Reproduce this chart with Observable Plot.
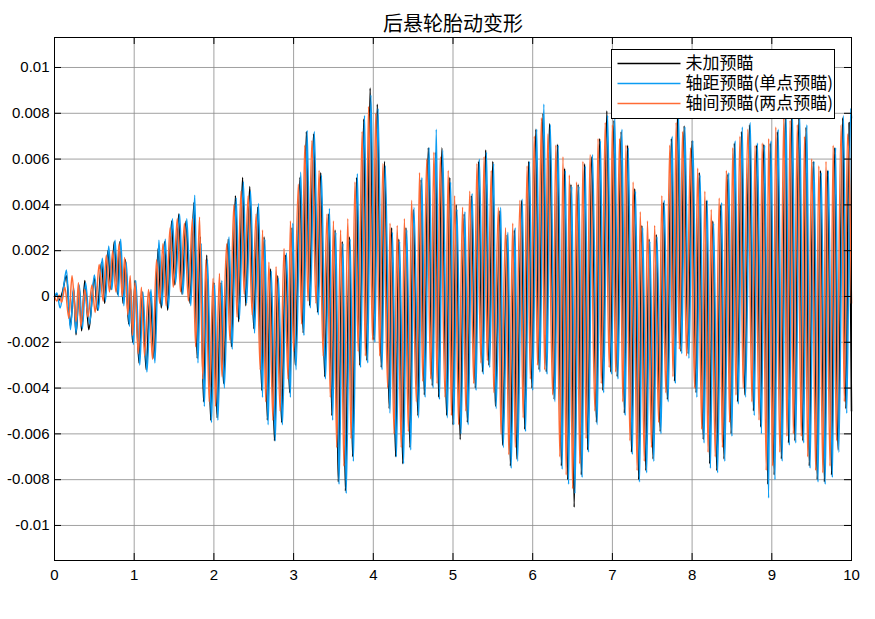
<!DOCTYPE html>
<html>
<head>
<meta charset="utf-8">
<script src="https://cdn.jsdelivr.net/npm/d3@7"></script>
<script src="https://cdn.jsdelivr.net/npm/@observablehq/plot@0.6"></script>
<style>
  html, body { margin: 0; padding: 0; background: #fff; }
  #chart { width: 875px; height: 619px; }
</style>
</head>
<body>
<div id="chart"></div>
<script>
// Values: [time (s), deformation (×1e-3 m)] at the wave extrema.
const blackPts = [[0,0],[0.03,0.1],[0.06,-0.15],[0.10,0.2],[0.15,0.9],[0.20,-1.3],[0.24,0.3],[0.27,-1.67],[0.31,0.4],[0.34,-1.5],[0.38,0.7],[0.43,-1.45],[0.50,0.8],[0.54,-0.6],[0.59,1.5],[0.63,-0.3],[0.67,2.0],[0.71,0.3],[0.75,2.4],[0.79,0.1],[0.82,2.4],[0.86,-0.3],[0.89,1.6],[0.93,-1.2],[0.95,0.4],[0.98,-2.0],[1.01,0.7],[1.06,-2.9],[1.10,0.2],[1.15,-3.2],[1.20,0.2],[1.25,-2.7],[1.30,2.1],[1.34,-0.5],[1.38,2.4],[1.42,-0.6],[1.47,3.3],[1.51,0.5],[1.56,3.6],[1.60,0.1],[1.65,3.3],[1.70,-0.3],[1.75,4.1],[1.79,-2.7],[1.83,2.6],[1.87,-4.6],[1.91,1.8],[1.96,-5.4],[2.00,0.6],[2.04,-5.3],[2.09,0.6],[2.12,-3.8],[2.18,2.5],[2.22,-2.2],[2.27,4.4],[2.31,-1.1],[2.36,5.2],[2.40,-0.4],[2.45,4.8],[2.50,-1.4],[2.55,3.9],[2.60,-4.1],[2.63,2.6],[2.67,-5.4],[2.71,1.2],[2.76,-6.3],[2.80,0.9],[2.85,-5.5],[2.90,1.8],[2.95,-4.2],[2.98,3.0],[3.02,-3.0],[3.08,5.2],[3.12,-1.6],[3.16,7.2],[3.20,-0.4],[3.25,7.1],[3.30,-0.7],[3.34,5.4],[3.39,-3.5],[3.44,3.6],[3.48,-5.2],[3.52,2.9],[3.56,-8.1],[3.61,2.4],[3.65,-8.5],[3.70,2.6],[3.74,-7.0],[3.79,5.2],[3.83,-3.0],[3.88,7.75],[3.92,-2.8],[3.96,9.1],[4.01,-1.9],[4.05,8.4],[4.10,-3.1],[4.14,5.9],[4.20,-4.9],[4.23,3.0],[4.28,-7.0],[4.32,2.5],[4.37,-7.3],[4.41,3.0],[4.46,-6.6],[4.50,3.8],[4.56,-5.2],[4.60,5.1],[4.64,-4.3],[4.69,6.5],[4.74,-3.9],[4.78,6.3],[4.82,-4.4],[4.86,6.5],[4.92,-5.2],[4.96,5.2],[5.00,-5.6],[5.04,4.0],[5.09,-6.25],[5.14,3.6],[5.18,-5.5],[5.23,4.4],[5.28,-4.0],[5.32,5.9],[5.37,-3.3],[5.41,6.4],[5.45,-3.0],[5.50,5.9],[5.53,-4.8],[5.59,3.75],[5.62,-6.5],[5.68,2.7],[5.72,-7.4],[5.77,2.9],[5.80,-7.1],[5.86,4.2],[5.90,-5.8],[5.95,5.9],[5.99,-4.0],[6.04,7.3],[6.08,-3.2],[6.13,8.0],[6.17,-3.3],[6.21,7.55],[6.27,-4.5],[6.31,6.65],[6.36,-7.4],[6.40,5.6],[6.44,-8.0],[6.48,4.9],[6.52,-9.2],[6.57,4.9],[6.61,-7.8],[6.65,5.8],[6.69,-6.7],[6.74,6.1],[6.80,-5.5],[6.84,6.9],[6.88,-4.1],[6.93,8.1],[6.98,-3.3],[7.02,7.7],[7.06,-3.5],[7.11,7.2],[7.15,-5.1],[7.19,6.6],[7.24,-6.8],[7.28,4.7],[7.33,-8.0],[7.37,3.1],[7.42,-7.6],[7.46,2.5],[7.51,-7.1],[7.55,2.7],[7.60,-5.9],[7.64,4.1],[7.69,-4.5],[7.74,6.9],[7.78,-3.7],[7.82,8.4],[7.86,-2.4],[7.90,7.45],[7.95,-2.5],[8.00,6.8],[8.05,-4.2],[8.09,5.4],[8.14,-6.25],[8.18,4.2],[8.22,-7.3],[8.26,3.3],[8.31,-7.6],[8.36,4.0],[8.40,-7.1],[8.45,5.35],[8.49,-6.0],[8.53,6.7],[8.57,-4.6],[8.62,7.2],[8.66,-4.3],[8.72,7.5],[8.77,-5.0],[8.81,6.6],[8.86,-5.7],[8.90,6.65],[8.95,-8.2],[8.98,6.7],[9.03,-7.8],[9.07,7.2],[9.12,-7.1],[9.17,7.9],[9.21,-6.4],[9.25,7.9],[9.29,-6.3],[9.34,7.8],[9.39,-6.3],[9.43,7.4],[9.47,-7.4],[9.52,5.9],[9.57,-8.0],[9.61,5.5],[9.66,-8.1],[9.70,5.5],[9.75,-7.8],[9.79,6.5],[9.83,-6.7],[9.89,7.8],[9.93,-4.9],[9.97,7.6],[10.0,-5.0]];

const bluePts = [[0,0],[0.03,0.15],[0.07,-0.5],[0.11,0.3],[0.15,1.16],[0.20,-1.45],[0.24,0.4],[0.27,-1.6],[0.31,0.5],[0.35,-1.4],[0.39,0.6],[0.44,-1.2],[0.50,0.94],[0.55,-0.6],[0.60,1.67],[0.64,-0.2],[0.68,2.2],[0.72,0.3],[0.76,2.46],[0.80,0.0],[0.83,2.5],[0.87,-0.4],[0.90,1.5],[0.94,-1.3],[0.96,0.3],[0.99,-2.1],[1.02,0.7],[1.07,-3.0],[1.11,0.2],[1.16,-3.3],[1.21,0.3],[1.26,-2.9],[1.31,2.46],[1.35,-0.4],[1.39,2.5],[1.43,-0.5],[1.48,3.4],[1.52,0.6],[1.57,3.6],[1.61,0.1],[1.66,3.4],[1.71,-0.4],[1.76,4.42],[1.80,-2.9],[1.84,2.3],[1.88,-4.8],[1.92,1.6],[1.97,-5.5],[2.01,0.5],[2.05,-5.4],[2.10,0.7],[2.13,-4.0],[2.19,2.6],[2.23,-2.3],[2.28,4.3],[2.32,-1.0],[2.37,5.0],[2.41,-0.3],[2.46,4.6],[2.51,-1.6],[2.56,4.06],[2.61,-4.4],[2.64,2.5],[2.68,-5.6],[2.72,1.1],[2.77,-6.3],[2.81,0.8],[2.86,-5.6],[2.91,1.9],[2.96,-4.4],[2.99,3.2],[3.03,-3.2],[3.09,5.43],[3.13,-1.7],[3.17,7.25],[3.21,-0.5],[3.26,7.2],[3.31,-0.8],[3.35,5.3],[3.40,-3.6],[3.45,3.84],[3.49,-5.4],[3.53,2.8],[3.57,-8.2],[3.62,2.3],[3.66,-8.6],[3.71,2.5],[3.75,-7.2],[3.80,5.36],[3.84,-3.1],[3.89,7.9],[3.93,-2.9],[3.97,8.8],[4.02,-2.0],[4.06,8.2],[4.11,-3.2],[4.15,5.7],[4.21,-5.1],[4.24,2.8],[4.29,-7.0],[4.33,2.4],[4.38,-7.3],[4.42,2.9],[4.47,-6.7],[4.51,3.9],[4.57,-5.3],[4.61,5.2],[4.65,-4.4],[4.70,6.5],[4.75,-4.0],[4.79,7.3],[4.83,-4.5],[4.87,6.4],[4.93,-5.3],[4.97,5.0],[5.01,-5.6],[5.05,3.8],[5.10,-6.0],[5.15,3.7],[5.19,-5.6],[5.24,4.5],[5.29,-4.1],[5.33,6.0],[5.38,-3.4],[5.42,6.3],[5.46,-3.1],[5.51,5.8],[5.54,-4.9],[5.60,3.9],[5.63,-6.6],[5.69,2.8],[5.73,-7.5],[5.78,3.0],[5.81,-7.2],[5.87,4.26],[5.91,-5.9],[5.96,5.9],[6.00,-4.1],[6.05,7.3],[6.09,-3.3],[6.14,8.4],[6.18,-3.4],[6.22,7.5],[6.28,-4.6],[6.32,6.6],[6.37,-7.55],[6.41,5.5],[6.45,-8.2],[6.49,4.8],[6.53,-8.6],[6.58,4.8],[6.62,-7.9],[6.66,5.7],[6.70,-6.8],[6.75,6.2],[6.81,-5.6],[6.85,6.8],[6.89,-4.2],[6.94,7.9],[6.99,-3.4],[7.03,7.9],[7.07,-3.6],[7.12,7.3],[7.16,-5.2],[7.20,6.5],[7.25,-6.9],[7.29,4.6],[7.34,-8.1],[7.38,3.0],[7.43,-7.7],[7.47,2.4],[7.52,-7.2],[7.56,2.6],[7.61,-6.0],[7.65,4.2],[7.70,-4.6],[7.75,7.0],[7.79,-3.8],[7.83,8.0],[7.87,-2.5],[7.91,7.4],[7.96,-2.7],[8.01,6.8],[8.06,-4.4],[8.10,5.3],[8.15,-6.4],[8.19,4.2],[8.23,-7.5],[8.27,3.2],[8.32,-7.7],[8.37,4.1],[8.41,-7.2],[8.46,5.4],[8.50,-6.1],[8.54,6.8],[8.58,-4.7],[8.63,7.4],[8.67,-4.4],[8.73,7.6],[8.78,-5.2],[8.82,6.7],[8.87,-6.0],[8.91,6.6],[8.96,-8.8],[8.99,6.8],[9.04,-8.0],[9.08,7.3],[9.13,-7.2],[9.18,8.0],[9.22,-6.5],[9.26,8.0],[9.30,-6.4],[9.35,7.9],[9.40,-6.4],[9.44,7.5],[9.48,-7.5],[9.53,5.9],[9.58,-8.1],[9.62,5.4],[9.67,-8.2],[9.71,5.5],[9.76,-7.9],[9.80,6.5],[9.84,-6.8],[9.90,7.9],[9.94,-5.1],[9.99,8.2],[10.0,7.8]];

const orangePts = [[0,0],[0.03,-0.2],[0.06,0.05],[0.09,-0.25],[0.13,0.4],[0.18,-0.95],[0.22,0.9],[0.27,-1.1],[0.30,0.6],[0.33,-1.3],[0.38,0.3],[0.42,-0.9],[0.47,0.5],[0.51,-0.7],[0.56,1.4],[0.61,-0.2],[0.65,1.8],[0.69,0.2],[0.73,2.0],[0.77,0.2],[0.81,2.3],[0.85,0.0],[0.88,1.7],[0.92,-0.8],[0.95,0.9],[0.98,-1.7],[1.01,0.6],[1.05,-2.5],[1.09,0.4],[1.13,-2.6],[1.18,0.3],[1.23,-2.75],[1.28,1.6],[1.32,-0.3],[1.36,2.3],[1.40,-0.4],[1.45,3.0],[1.49,0.4],[1.54,3.4],[1.58,0.2],[1.63,3.2],[1.68,-0.2],[1.73,3.4],[1.77,-2.2],[1.82,3.46],[1.86,-3.6],[1.90,1.6],[1.94,-4.6],[1.99,0.8],[2.02,-4.8],[2.07,1.0],[2.10,-3.5],[2.16,2.3],[2.20,-1.9],[2.25,4.0],[2.29,-0.9],[2.34,4.6],[2.38,0.1],[2.43,4.4],[2.48,-0.8],[2.53,3.6],[2.58,-3.2],[2.61,2.9],[2.65,-4.6],[2.69,1.5],[2.74,-5.4],[2.78,1.3],[2.83,-5.0],[2.88,2.1],[2.93,-3.6],[2.96,3.3],[3.00,-2.4],[3.06,4.9],[3.10,-1.2],[3.14,6.6],[3.18,-0.2],[3.23,6.8],[3.28,-0.3],[3.32,5.5],[3.37,-2.6],[3.42,3.6],[3.46,-4.4],[3.50,3.3],[3.54,-6.6],[3.59,2.9],[3.63,-7.4],[3.68,3.4],[3.72,-6.2],[3.77,5.0],[3.81,-2.4],[3.86,7.2],[3.90,-2.6],[3.94,8.3],[3.99,-1.9],[4.03,8.0],[4.08,-2.6],[4.12,5.8],[4.18,-4.0],[4.21,3.2],[4.26,-6.0],[4.30,3.1],[4.35,-6.6],[4.39,3.4],[4.44,-5.9],[4.48,4.2],[4.54,-4.6],[4.58,5.4],[4.62,-3.7],[4.67,6.0],[4.72,-3.6],[4.76,6.3],[4.80,-3.8],[4.84,6.1],[4.90,-4.4],[4.94,5.5],[4.98,-5.2],[5.02,4.4],[5.07,-5.6],[5.12,3.9],[5.16,-5.0],[5.21,4.6],[5.26,-3.8],[5.30,5.8],[5.35,-2.9],[5.39,6.1],[5.43,-2.8],[5.48,5.5],[5.51,-4.2],[5.57,3.9],[5.60,-6.0],[5.66,3.0],[5.70,-6.9],[5.75,3.2],[5.78,-6.6],[5.84,4.2],[5.88,-5.3],[5.93,5.7],[5.97,-3.6],[6.02,7.0],[6.06,-3.0],[6.11,7.8],[6.15,-3.2],[6.19,7.1],[6.25,-4.3],[6.29,6.6],[6.34,-7.0],[6.38,6.1],[6.42,-7.8],[6.46,5.3],[6.50,-8.4],[6.55,5.0],[6.59,-7.3],[6.63,5.9],[6.67,-6.2],[6.72,6.2],[6.78,-5.0],[6.82,6.9],[6.86,-3.8],[6.91,7.6],[6.96,-3.1],[7.00,7.5],[7.04,-3.3],[7.09,6.9],[7.13,-4.6],[7.17,6.6],[7.22,-6.3],[7.26,5.0],[7.31,-7.6],[7.35,3.7],[7.40,-7.2],[7.44,3.3],[7.49,-6.6],[7.53,3.1],[7.58,-5.5],[7.62,4.4],[7.67,-4.2],[7.72,6.6],[7.76,-3.5],[7.80,7.6],[7.84,-2.3],[7.88,7.2],[7.93,-2.6],[7.98,6.5],[8.03,-4.0],[8.07,5.6],[8.12,-5.8],[8.16,4.6],[8.20,-6.8],[8.24,3.8],[8.29,-7.0],[8.34,4.3],[8.38,-6.6],[8.43,5.5],[8.47,-5.5],[8.51,6.5],[8.55,-4.3],[8.60,7.0],[8.64,-4.0],[8.70,7.3],[8.75,-4.6],[8.79,6.6],[8.84,-5.4],[8.88,6.7],[8.93,-7.6],[8.96,6.9],[9.01,-7.4],[9.05,7.4],[9.10,-6.8],[9.15,7.8],[9.19,-6.1],[9.23,7.7],[9.27,-6.0],[9.32,7.5],[9.37,-6.1],[9.41,7.0],[9.45,-7.0],[9.50,6.0],[9.55,-7.6],[9.59,5.7],[9.64,-7.7],[9.68,5.9],[9.73,-7.4],[9.77,6.6],[9.81,-6.3],[9.87,7.5],[9.91,-4.6],[9.95,7.1],[10.0,-0.3]];

const seriesNames = ["未加预瞄", "轴距预瞄(单点预瞄)", "轴间预瞄(两点预瞄)"];
const seriesColors = ["#000000", "#0c9cf2", "#ff6b35"];
const xTicks = [0, 1, 2, 3, 4, 5, 6, 7, 8, 9, 10];
const yTicks = [-0.01, -0.008, -0.006, -0.004, -0.002, 0, 0.002, 0.004, 0.006, 0.008, 0.01];
const titleText = "后悬轮胎动变形";

const W = 875, H = 619;
const mL = 54, mR = 24, mT = 37, mB = 59;
const plotW = W - mL - mR, plotH = H - mT - mB;
const tickLen = 7;

const allPts = [blackPts, bluePts, orangePts];
const rows = allPts.flatMap((pts, i) => pts.map(([t, v]) => ({ t, v: v * 1e-3, s: seriesNames[i] })));

const fmtY = d => d === 0 ? "0" : String(+d.toFixed(3)).replace("\u2212", "-");

const chart = Plot.plot({
  width: W, height: H,
  marginLeft: mL, marginRight: mR, marginTop: mT, marginBottom: mB,
  style: { fontFamily: "'Liberation Sans', Arial, sans-serif", fontSize: "15px", background: "#fff", color: "#000", overflow: "visible" },
  x: { domain: [0, 10] },
  y: { domain: [-0.01153, 0.01131] },
  color: { domain: seriesNames, range: seriesColors },
  marks: [
    Plot.gridX(xTicks, { stroke: "#8a8a8a", strokeOpacity: 0.8 }),
    Plot.gridY(yTicks, { stroke: "#8a8a8a", strokeOpacity: 0.8 }),
    ...seriesNames.map(name => Plot.line(rows.filter(r => r.s === name), { x: "t", y: "v", stroke: "s", strokeWidth: 1.5, curve: "monotone-x" })),
    Plot.frame({ stroke: "#000", strokeWidth: 1 }),
    Plot.tickY(yTicks, { y: d => d, insetRight: plotW - tickLen, stroke: "#000" }),
    Plot.tickY(yTicks, { y: d => d, insetLeft: plotW - tickLen, stroke: "#000" }),
    Plot.tickX(xTicks, { x: d => d, insetTop: plotH - tickLen, stroke: "#000" }),
    Plot.tickX(xTicks, { x: d => d, insetBottom: plotH - tickLen, stroke: "#000" }),
    Plot.axisX(xTicks, { tickSize: 0, tickPadding: 9, label: null, fontSize: 15, fill: "#000" }),
    Plot.axisY(yTicks, { tickSize: 0, tickPadding: 5, label: null, tickFormat: fmtY, fontSize: 15, fill: "#000" }),
    Plot.text([titleText], { frameAnchor: "top", dy: -21, fontSize: 20, fontFamily: "'Noto Sans CJK SC', sans-serif", fill: "#000" })
  ]
});

document.getElementById("chart").appendChild(chart);

// Legend box (top-right inside the axes, as in the reference)
const svg = d3.select(chart);
const lg = svg.append("g")
  .attr("font-family", "'Noto Sans CJK SC', sans-serif")
  .attr("font-size", 17)
  .attr("text-anchor", "start");
const lx = 611.5, ly = 49.5, lw = 223, lh = 69;
lg.append("rect").attr("x", lx).attr("y", ly).attr("width", lw).attr("height", lh).attr("fill", "#fff").attr("stroke", "#000");
seriesNames.forEach((name, i) => {
  const cy = ly + 14 + i * 20;
  lg.append("line").attr("x1", lx + 6).attr("x2", lx + 69).attr("y1", cy).attr("y2", cy).attr("stroke", seriesColors[i]).attr("stroke-width", 1.5);
  lg.append("text").attr("x", lx + 74).attr("y", cy).attr("dy", "0.35em").attr("text-anchor", "start").attr("fill", "#000").text(name);
});
</script>
</body>
</html>
